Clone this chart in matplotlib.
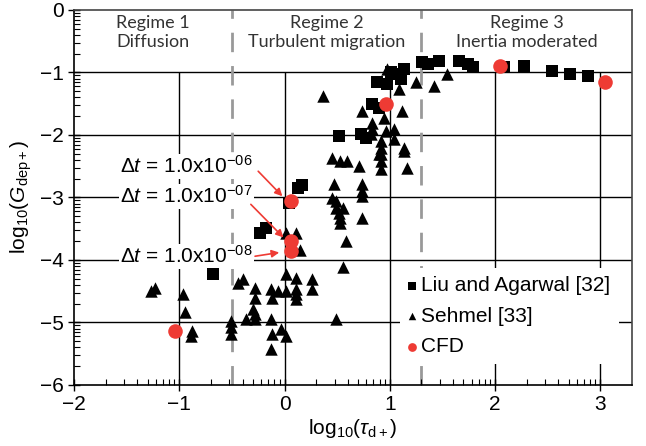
import numpy as np
import matplotlib.pyplot as plt

plt.rcParams['font.family'] = ['Liberation Sans', 'DejaVu Sans']
plt.rcParams['mathtext.fontset'] = 'custom'
plt.rcParams['mathtext.rm'] = 'Liberation Sans'
plt.rcParams['mathtext.it'] = 'Liberation Sans:italic'

# Liu and Agarwal [32] (squares)
liu_x = [-0.68, -0.23, -0.18, 0.04, 0.13, 0.17, 0.52, 0.73, 0.77, 0.83, 0.90,
         0.88, 0.97, 1.01, 1.06, 1.11, 1.14, 1.31, 1.36, 1.47, 1.66, 1.74, 1.79,
         2.09, 2.28, 2.54, 2.71, 2.88]
liu_y = [-4.23, -3.57, -3.49, -3.09, -2.85, -2.80, -2.01, -1.98, -2.05, -1.50, -1.57,
         -1.16, -1.18, -1.00, -1.02, -1.10, -0.94, -0.84, -0.86, -0.81, -0.81, -0.86, -0.92,
         -0.92, -0.89, -0.97, -1.02, -1.05]

# Sehmel [33] (triangles)
seh_x = [-1.27, -1.23, -0.96, -0.95, -0.88, -0.89, -0.51, -0.51, -0.51,
         -0.44, -0.39, -0.37, -0.28, -0.28, -0.30, -0.28, -0.28, -0.13, -0.12, -0.06,
         -0.13, -0.12, -0.13, -0.03, 0.01, 0.01, 0.01, 0.11, 0.11, 0.11, 0.11, 0.26,
         0.26, 0.49,
         0.01, 0.11, 0.15,
         0.37, 0.45, 0.47, 0.45, 0.49, 0.49, 0.52, 0.53, 0.53, 0.56, 0.58, 0.56,
         0.53, 0.59, 0.71, 0.74, 0.74, 0.74, 0.74, 0.92, 0.92, 0.92, 1.14, 1.16,
         0.74, 0.83, 0.83, 0.82, 0.95, 0.96, 1.04, 1.04, 0.92, 0.92, 0.90, 1.14,
         1.12, 0.97, 1.02, 1.09, 1.25, 1.42, 1.54]
seh_y = [-4.50, -4.45, -4.54, -4.84, -5.14, -5.22, -4.98, -5.08, -5.18,
         -4.37, -4.31, -4.94, -4.45, -4.61, -4.78, -4.87, -4.95, -4.47, -4.61, -4.50,
         -4.94, -5.19, -5.42, -5.11, -5.22, -4.23, -4.50, -4.29, -4.47, -4.55, -4.63, -4.31,
         -4.47, -4.94,
         -3.57, -3.57, -3.84,
         -1.37, -2.37, -2.79, -3.01, -3.06, -3.17, -3.25, -3.33, -3.41, -3.17, -3.70, -4.12,
         -2.42, -2.42, -2.50, -2.79, -2.90, -2.98, -3.33, -2.30, -2.42, -2.54, -2.26, -2.53,
         -1.61, -1.81, -1.90, -1.98, -1.73, -1.93, -1.90, -2.06, -2.10, -2.21, -2.30, -2.21,
         -1.61, -0.94, -1.00, -1.26, -1.16, -1.21, -1.02]

# CFD (red circles)
cfd_x = [-1.04, 0.06, 0.06, 0.06, 0.96, 2.05, 3.05]
cfd_y = [-5.13, -3.06, -3.70, -3.86, -1.50, -0.89, -1.16]

regime_x = [-1.25, 0.40, 2.30]
regime_labels = ['Regime 1\nDiffusion', 'Regime 2\nTurbulent migration',
                 'Regime 3\nInertia moderated']
boundaries = [-0.5, 1.3]

dt_labels = [r'$\mathrm{\Delta}t$ = 1.0x10$^{\mathrm{-06}}$',
             r'$\mathrm{\Delta}t$ = 1.0x10$^{\mathrm{-07}}$',
             r'$\mathrm{\Delta}t$ = 1.0x10$^{\mathrm{-08}}$']
dt_text_y = [-2.50, -2.98, -3.94]
arrow_start = [(-0.25, -2.58), (-0.32, -3.11), (-0.28, -3.94)]
arrow_end = [(-0.02, -2.98), (-0.01, -3.64), (-0.05, -3.88)]


def main():
    fig = plt.figure(figsize=(6.46, 4.46), dpi=100)
    ax = fig.add_axes([0.1146, 0.1368, 0.978 - 0.1146, 0.9776 - 0.1368])
    ax.set_xlim(-2, 3.3)
    ax.set_ylim(-6, 0)

    # grid
    ax.hlines([-1, -2, -3, -4, -5], -2, 3.3, color='black', lw=1.0, zorder=1)
    ax.vlines([-1, 0, 1, 2, 3], -6, -1, color='black', lw=1.0, zorder=1)
    ax.vlines(boundaries, -6, 0, color='#999999', lw=2.0,
              linestyles=(0, (7, 5)), zorder=1)

    for x, lab in zip(regime_x, regime_labels):
        ax.text(x, -0.36, lab, ha='center', va='center', fontsize=13,
                color='#333333', family=['Lato', 'DejaVu Sans'], linespacing=1.25)

    ax.scatter(seh_x, seh_y, marker='^', s=80, color='black', lw=0, zorder=3,
               label='Sehmel [33]')
    ax.scatter(liu_x, liu_y, marker='s', s=85, color='black', lw=0, zorder=4,
               label='Liu and Agarwal [32]')
    ax.scatter(cfd_x, cfd_y, marker='o', s=110, color='#EE3B34', lw=0, zorder=5,
               label='CFD')

    for lab, ty, s, e in zip(dt_labels, dt_text_y, arrow_start, arrow_end):
        ax.text(-1.56, ty, lab, ha='left', va='center', fontsize=15, zorder=2,
                bbox=dict(facecolor='white', edgecolor='none', pad=1))
        ax.annotate('', xy=e, xytext=s, zorder=6,
                    arrowprops=dict(arrowstyle='-|>', color='#EE3B34', lw=1.2,
                                    mutation_scale=11, shrinkA=0, shrinkB=0))

    h, l = ax.get_legend_handles_labels()
    order = [1, 0, 2]
    leg = ax.legend([h[i] for i in order], [l[i] for i in order],
                    loc='upper left', bbox_to_anchor=(0.565, 0.34),
                    fontsize=15, frameon=True, fancybox=False, framealpha=1,
                    edgecolor='none', facecolor='white', markerscale=0.6,
                    handlelength=0.4, handletextpad=0.25, labelspacing=0.55,
                    borderpad=0.4)
    leg.set_zorder(7)

    # ticks
    ax.set_xticks(np.arange(-2, 4))
    ax.set_yticks(np.arange(-6, 1))
    minor = np.concatenate([d + np.log10(np.arange(2, 10)) for d in range(-6, 4)])
    ax.set_xticks(minor[(minor > -2) & (minor < 3.3)], minor=True)
    ax.set_yticks(minor[(minor > -6) & (minor < 0)], minor=True)
    ax.tick_params(which='major', direction='inout', length=8, width=1.0,
                   labelsize=15, top=False, right=False)
    ax.tick_params(which='minor', direction='in', length=4, width=0.8,
                   top=False, right=False)
    for sp in ['top', 'right']:
        ax.spines[sp].set_color('#444444')
    for sp in ax.spines.values():
        sp.set_linewidth(1.2)

    ax.set_xlabel(r'log$_{10}$($\tau_{\mathrm{d+}}$)', fontsize=15, labelpad=2)
    ax.set_ylabel(r'log$_{10}$($G_{\mathrm{dep+}}$)', fontsize=15, labelpad=4)

    fig.savefig('out.png', dpi=100)


if __name__ == '__main__':
    main()
